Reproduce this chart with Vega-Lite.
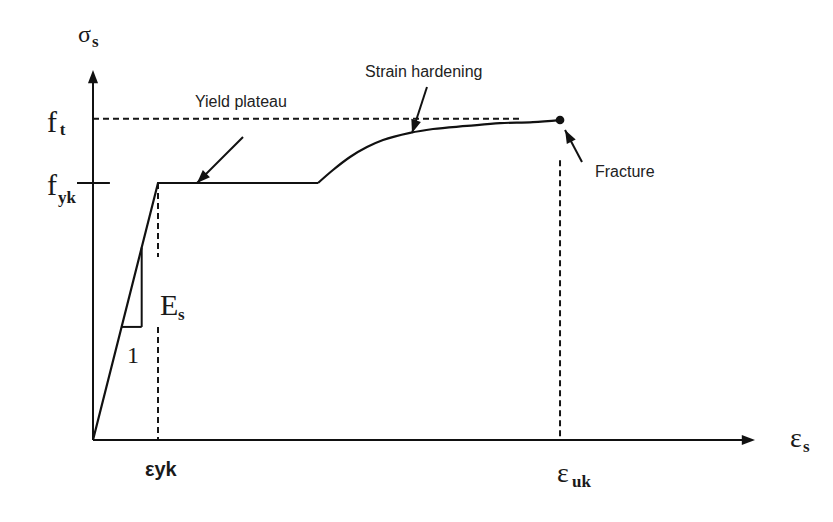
{
  "$schema": "https://vega.github.io/schema/vega-lite/v6.json",
  "autosize": {"type": "fit", "contains": "padding"},
  "width": 833,
  "height": 522,
  "padding": 0,
  "background": "white",
  "config": {"view": {"stroke": null}},
  "datasets": {
    "elastic_plateau": [
      {"eps": 0, "sig": 0},
      {"eps": 1, "sig": 1},
      {"eps": 3.4615, "sig": 1}
    ],
    "hardening": [
      {"eps": 3.4615, "sig": 1.0},
      {"eps": 3.692, "sig": 1.0506},
      {"eps": 3.954, "sig": 1.1012},
      {"eps": 4.215, "sig": 1.14},
      {"eps": 4.462, "sig": 1.167},
      {"eps": 4.877, "sig": 1.195},
      {"eps": 5.231, "sig": 1.21},
      {"eps": 5.754, "sig": 1.222},
      {"eps": 6.262, "sig": 1.233},
      {"eps": 6.769, "sig": 1.237},
      {"eps": 7.185, "sig": 1.245}
    ],
    "segments": [
      {"name": "stress axis", "style": "solid", "eps": 0, "sig": 0, "eps2": 0, "sig2": 1.4},
      {"name": "strain axis", "style": "solid", "eps": 0, "sig": 0, "eps2": 10.1, "sig2": 0},
      {"name": "fyk tick", "style": "solid", "eps": -0.246, "sig": 1, "eps2": 0.26, "sig2": 1},
      {"name": "slope run", "style": "solid", "eps": 0.44, "sig": 0.44, "eps2": 0.749, "sig2": 0.44},
      {"name": "slope rise", "style": "solid", "eps": 0.749, "sig": 0.44, "eps2": 0.749, "sig2": 0.749},
      {"name": "yield pointer", "style": "solid", "eps": 2.308, "sig": 1.179, "eps2": 1.6, "sig2": 1.0},
      {"name": "hardening pointer", "style": "solid", "eps": 5.138, "sig": 1.3735, "eps2": 4.908, "sig2": 1.1946},
      {"name": "fracture pointer", "style": "solid", "eps": 7.523, "sig": 1.0817, "eps2": 7.262, "sig2": 1.206},
      {"name": "ft level", "style": "dashed", "eps": 0, "sig": 1.25, "eps2": 6.6, "sig2": 1.25},
      {"name": "eps yk upper", "style": "dashed", "eps": 1, "sig": 1, "eps2": 1, "sig2": 0.712},
      {"name": "eps yk lower", "style": "dashed", "eps": 1, "sig": 0.44, "eps2": 1, "sig2": 0},
      {"name": "eps uk", "style": "dashed", "eps": 7.185, "sig": 1.089, "eps2": 7.185, "sig2": 0}
    ],
    "heads": [
      {"name": "stress axis", "eps": 0, "sig": 1.44, "dir": 0},
      {"name": "strain axis", "eps": 10.185, "sig": 0, "dir": 90},
      {"name": "yield pointer", "eps": 1.6, "sig": 1.0, "dir": 225},
      {"name": "hardening pointer", "eps": 4.908, "sig": 1.1946, "dir": 198},
      {"name": "fracture pointer", "eps": 7.262, "sig": 1.206, "dir": 332}
    ],
    "fracture": [
      {"eps": 7.185, "sig": 1.245}
    ],
    "labels": [
      {"text": "σ", "kind": "mid", "eps": -0.231, "sig": 1.549},
      {"text": "s", "kind": "sub", "eps": -0.015, "sig": 1.529},
      {"text": "f", "kind": "big", "eps": -0.708, "sig": 1.198},
      {"text": "t", "kind": "sub", "eps": -0.51, "sig": 1.187},
      {"text": "f", "kind": "big", "eps": -0.708, "sig": 0.953},
      {"text": "yk", "kind": "sub", "eps": -0.54, "sig": 0.922},
      {"text": "E", "kind": "big", "eps": 1.031, "sig": 0.486},
      {"text": "s", "kind": "sub", "eps": 1.308, "sig": 0.467},
      {"text": "1", "kind": "mid", "eps": 0.523, "sig": 0.3},
      {"text": "ε", "kind": "eps", "eps": 7.138, "sig": -0.163},
      {"text": "uk", "kind": "sub", "eps": 7.369, "sig": -0.183},
      {"text": "ε", "kind": "eps", "eps": 10.723, "sig": -0.027},
      {"text": "s", "kind": "sub", "eps": 10.923, "sig": -0.047}
    ],
    "notes": [
      {"text": "Yield plateau", "eps": 1.569, "sig": 1.296},
      {"text": "Strain hardening", "eps": 4.185, "sig": 1.4125},
      {"text": "Fracture", "eps": 7.723, "sig": 1.023}
    ],
    "strain_marks": [
      {"text": "εyk", "eps": 0.8, "sig": -0.14}
    ]
  },
  "layer": [
    {
      "data": {"name": "segments"},
      "transform": [{"filter": "datum.style === 'dashed'"}],
      "mark": {"type": "rule", "color": "#151515", "strokeWidth": 2, "strokeDash": [6, 4]},
      "encoding": {
        "x": {"field": "eps", "type": "quantitative", "scale": {"domain": [-1.4308, 11.3846], "nice": false, "zero": false}, "axis": null},
        "y": {"field": "sig", "type": "quantitative", "scale": {"domain": [-0.3191, 1.7121], "nice": false, "zero": false}, "axis": null},
        "x2": {"field": "eps2"},
        "y2": {"field": "sig2"}
      }
    },
    {
      "data": {"name": "segments"},
      "transform": [{"filter": "datum.style === 'solid'"}],
      "mark": {"type": "rule", "color": "#111111", "strokeWidth": 2},
      "encoding": {
        "x": {"field": "eps", "type": "quantitative", "scale": {"domain": [-1.4308, 11.3846], "nice": false, "zero": false}, "axis": null},
        "y": {"field": "sig", "type": "quantitative", "scale": {"domain": [-0.3191, 1.7121], "nice": false, "zero": false}, "axis": null},
        "x2": {"field": "eps2"},
        "y2": {"field": "sig2"}
      }
    },
    {
      "data": {"name": "elastic_plateau"},
      "mark": {"type": "line", "color": "#111111", "strokeWidth": 2.2, "interpolate": "linear"},
      "encoding": {
        "x": {"field": "eps", "type": "quantitative", "scale": {"domain": [-1.4308, 11.3846], "nice": false, "zero": false}, "axis": null},
        "y": {"field": "sig", "type": "quantitative", "scale": {"domain": [-0.3191, 1.7121], "nice": false, "zero": false}, "axis": null},
        "order": {"field": "eps"}
      }
    },
    {
      "data": {"name": "hardening"},
      "mark": {"type": "line", "color": "#111111", "strokeWidth": 2.2, "interpolate": "monotone"},
      "encoding": {
        "x": {"field": "eps", "type": "quantitative", "scale": {"domain": [-1.4308, 11.3846], "nice": false, "zero": false}, "axis": null},
        "y": {"field": "sig", "type": "quantitative", "scale": {"domain": [-0.3191, 1.7121], "nice": false, "zero": false}, "axis": null},
        "order": {"field": "eps"}
      }
    },
    {
      "data": {"name": "heads"},
      "mark": {"type": "point", "shape": "M0,0L0.38,1L-0.38,1Z", "filled": true, "color": "#111111", "size": 700, "opacity": 1},
      "encoding": {
        "x": {"field": "eps", "type": "quantitative", "scale": {"domain": [-1.4308, 11.3846], "nice": false, "zero": false}, "axis": null},
        "y": {"field": "sig", "type": "quantitative", "scale": {"domain": [-0.3191, 1.7121], "nice": false, "zero": false}, "axis": null},
        "angle": {"field": "dir", "type": "quantitative", "scale": null}
      }
    },
    {
      "data": {"name": "fracture"},
      "mark": {"type": "circle", "color": "#111111", "size": 75, "opacity": 1},
      "encoding": {
        "x": {"field": "eps", "type": "quantitative", "scale": {"domain": [-1.4308, 11.3846], "nice": false, "zero": false}, "axis": null},
        "y": {"field": "sig", "type": "quantitative", "scale": {"domain": [-0.3191, 1.7121], "nice": false, "zero": false}, "axis": null}
      }
    },
    {
      "data": {"name": "labels"},
      "transform": [{"filter": "datum.kind === 'big'"}],
      "mark": {"type": "text", "font": "Liberation Serif", "fontSize": 30, "align": "left", "baseline": "alphabetic", "color": "#1a1a1a"},
      "encoding": {
        "x": {"field": "eps", "type": "quantitative", "scale": {"domain": [-1.4308, 11.3846], "nice": false, "zero": false}, "axis": null},
        "y": {"field": "sig", "type": "quantitative", "scale": {"domain": [-0.3191, 1.7121], "nice": false, "zero": false}, "axis": null},
        "text": {"field": "text"}
      }
    },
    {
      "data": {"name": "labels"},
      "transform": [{"filter": "datum.kind === 'eps'"}],
      "mark": {"type": "text", "font": "Liberation Serif", "fontSize": 28, "align": "left", "baseline": "alphabetic", "color": "#1a1a1a"},
      "encoding": {
        "x": {"field": "eps", "type": "quantitative", "scale": {"domain": [-1.4308, 11.3846], "nice": false, "zero": false}, "axis": null},
        "y": {"field": "sig", "type": "quantitative", "scale": {"domain": [-0.3191, 1.7121], "nice": false, "zero": false}, "axis": null},
        "text": {"field": "text"}
      }
    },
    {
      "data": {"name": "labels"},
      "transform": [{"filter": "datum.kind === 'mid'"}],
      "mark": {"type": "text", "font": "Liberation Serif", "fontSize": 24, "align": "left", "baseline": "alphabetic", "color": "#1a1a1a"},
      "encoding": {
        "x": {"field": "eps", "type": "quantitative", "scale": {"domain": [-1.4308, 11.3846], "nice": false, "zero": false}, "axis": null},
        "y": {"field": "sig", "type": "quantitative", "scale": {"domain": [-0.3191, 1.7121], "nice": false, "zero": false}, "axis": null},
        "text": {"field": "text"}
      }
    },
    {
      "data": {"name": "labels"},
      "transform": [{"filter": "datum.kind === 'sub'"}],
      "mark": {"type": "text", "font": "Liberation Serif", "fontSize": 17, "fontWeight": "bold", "align": "left", "baseline": "alphabetic", "color": "#1a1a1a"},
      "encoding": {
        "x": {"field": "eps", "type": "quantitative", "scale": {"domain": [-1.4308, 11.3846], "nice": false, "zero": false}, "axis": null},
        "y": {"field": "sig", "type": "quantitative", "scale": {"domain": [-0.3191, 1.7121], "nice": false, "zero": false}, "axis": null},
        "text": {"field": "text"}
      }
    },
    {
      "data": {"name": "notes"},
      "mark": {"type": "text", "font": "Liberation Sans", "fontSize": 16, "align": "left", "baseline": "alphabetic", "color": "#222222"},
      "encoding": {
        "x": {"field": "eps", "type": "quantitative", "scale": {"domain": [-1.4308, 11.3846], "nice": false, "zero": false}, "axis": null},
        "y": {"field": "sig", "type": "quantitative", "scale": {"domain": [-0.3191, 1.7121], "nice": false, "zero": false}, "axis": null},
        "text": {"field": "text"}
      }
    },
    {
      "data": {"name": "strain_marks"},
      "mark": {"type": "text", "font": "Liberation Sans", "fontSize": 20, "fontWeight": "bold", "align": "left", "baseline": "alphabetic", "color": "#1a1a1a"},
      "encoding": {
        "x": {"field": "eps", "type": "quantitative", "scale": {"domain": [-1.4308, 11.3846], "nice": false, "zero": false}, "axis": null},
        "y": {"field": "sig", "type": "quantitative", "scale": {"domain": [-0.3191, 1.7121], "nice": false, "zero": false}, "axis": null},
        "text": {"field": "text"}
      }
    }
  ]
}
